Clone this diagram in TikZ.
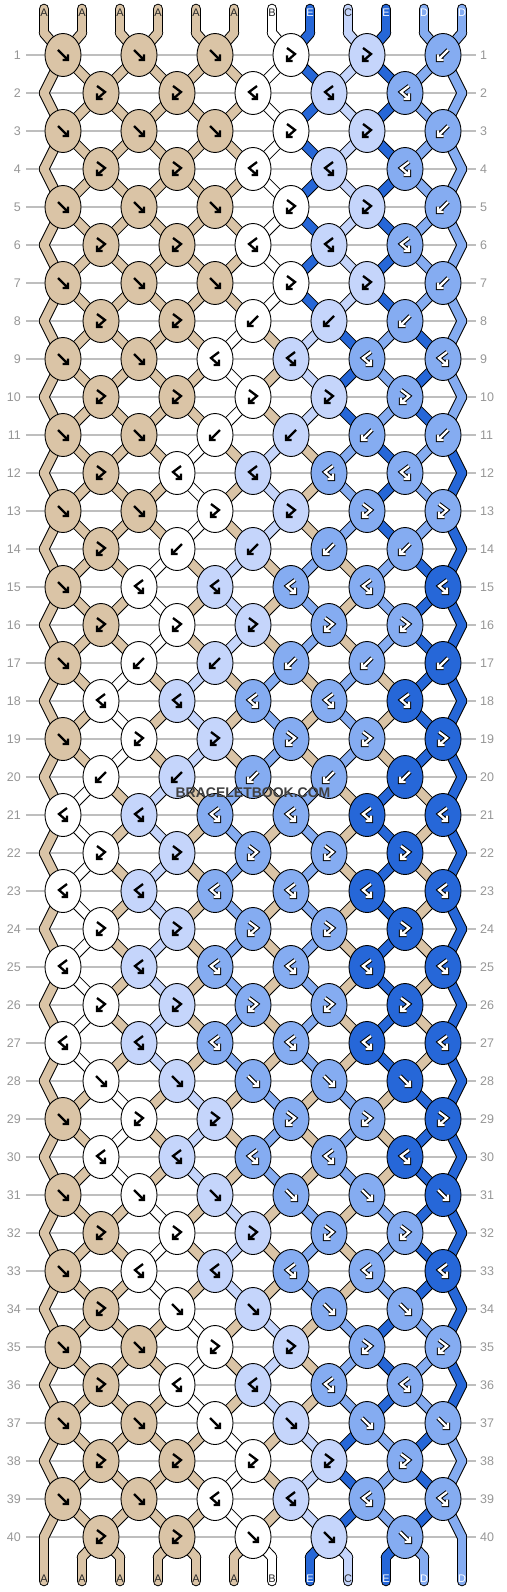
\documentclass[tikz,border=0pt]{standalone}
\usepackage{fontspec}
\setmainfont{Liberation Sans}
\usetikzlibrary{shapes.geometric}
\definecolor{colA}{RGB}{218,196,166}
\definecolor{colB}{RGB}{255,255,255}
\definecolor{colC}{RGB}{197,213,251}
\definecolor{colD}{RGB}{133,172,241}
\definecolor{colE}{RGB}{38,103,216}
\definecolor{rulegray}{RGB}{190,190,190}
\definecolor{numgray}{RGB}{150,150,150}
\pgfdeclarelayer{grid}
\pgfdeclarelayer{threadrim}
\pgfdeclarelayer{threadfill}
\pgfsetlayers{grid,threadrim,threadfill,main}
\tikzstyle{knot}=[ellipse,draw=black,line width=0.9pt,minimum width=36pt,minimum height=43pt,inner sep=0pt]
\tikzstyle{rim}=[draw=black,line width=10.6pt,line cap=round,line join=round]
\tikzstyle{thread}=[line width=8.6pt,line cap=round,line join=round]
\tikzstyle{rowline}=[draw=rulegray,line width=1.1pt]
\tikzstyle{rownum}=[font=\fontsize{12.5}{13}\selectfont,text=numgray,inner sep=0pt]
\tikzstyle{endlabel}=[font=\fontsize{11}{11}\selectfont,inner sep=0pt]
\tikzstyle{tagA}=[text=black!85]
\tikzstyle{tagB}=[text=black!85]
\tikzstyle{tagC}=[text=black!85]
\tikzstyle{tagD}=[text=white]
\tikzstyle{tagE}=[text=white]
\tikzstyle{glyphdark}=[draw=black,line width=2.3pt,line cap=butt,line join=miter]
\tikzstyle{glyphrim}=[draw=black,line width=4.3pt,line cap=square,line join=miter]
\tikzstyle{glyphlight}=[draw=white,line width=2.3pt,line cap=butt,line join=miter]
\tikzstyle{watermark}=[font=\bfseries\fontsize{14}{14}\selectfont,text=black!75,inner sep=0pt]

% remember one piece of thread: colour, from, to
\newcommand{\addthread}[3]{\xdef\seglist{\seglist\seg{#1}{#2}{#3}}}
% arrow inside a knot: f forward, b backward, F forward-backward, B backward-forward
\newcommand{\knotglyph}[3]{%
  \begin{scope}[shift={(#3)}]
    \if#1f\draw[#2] (-5,-5) -- (5,5) (5,-0.5) -- (5,5) -- (-0.5,5);\fi
    \if#1b\draw[#2] (5,-5) -- (-5,5) (-5,-0.5) -- (-5,5) -- (0.5,5);\fi
    \if#1F\draw[#2] (-4,-7) -- (4,-1) -- (-4,6) (-4,0.5) -- (-4,6) -- (1.5,6);\fi
    \if#1B\draw[#2] (4,-7) -- (-4,-1) -- (4,6) (4,0.5) -- (4,6) -- (-1.5,6);\fi
  \end{scope}}
\newcommand{\glyphA}[2]{\knotglyph{#1}{glyphdark}{#2}}
\newcommand{\glyphB}[2]{\knotglyph{#1}{glyphdark}{#2}}
\newcommand{\glyphC}[2]{\knotglyph{#1}{glyphdark}{#2}}
\newcommand{\glyphD}[2]{\knotglyph{#1}{glyphrim}{#2}\knotglyph{#1}{glyphlight}{#2}}
\newcommand{\glyphE}[2]{\knotglyph{#1}{glyphrim}{#2}\knotglyph{#1}{glyphlight}{#2}}

\begin{document}
\begin{tikzpicture}[x=1pt,y=-1pt]
  \useasboundingbox (0,0) rectangle (506,1592);
  \global\let\seg\relax
  \gdef\seglist{}

  % grid lines and row numbers
  \begin{pgfonlayer}{grid}
    \foreach \row in {1,...,40}
      \draw[rowline] (26,55+38*\row-38) -- (476,55+38*\row-38);
  \end{pgfonlayer}
  \foreach \row in {1,...,40} {
    \node[rownum,anchor=east] (nl\row) at (21,55+38*\row-38) {\row};
    \node[rownum,anchor=west] (nr\row) at (480,55+38*\row-38) {\row};
  }

  % threads at the top
  \foreach \tcol [count=\p from 0] in {A,A,A,A,A,A,B,E,C,E,D,D} {
    \expandafter\xdef\csname st\p\endcsname{\tcol}
    \coordinate (top\p) at (44+38*\p,9);
    \coordinate (in\p) at (44+38*\p,33);
    \expandafter\xdef\csname pv\p\endcsname{in\p}
    \addthread{\tcol}{top\p}{in\p}
    \node[endlabel,tag\tcol] (lt\p) at (44+38*\p,13) {\tcol};
  }

  % the rows of knots
  \foreach \row/\types in {1/{f,f,f,F,F,b}, 2/{F,F,B,B,B}, 3/{f,f,f,F,F,b}, 4/{F,F,B,B,B},
      5/{f,f,f,F,F,b}, 6/{F,F,B,B,B}, 7/{f,f,f,F,F,b}, 8/{F,F,b,b,b},
      9/{f,f,B,B,B,B}, 10/{F,F,F,F,F}, 11/{f,f,b,b,b,b}, 12/{F,B,B,B,B},
      13/{f,f,F,F,F,F}, 14/{F,b,b,b,b}, 15/{f,B,B,B,B,B}, 16/{F,F,F,F,F},
      17/{f,b,b,b,b,b}, 18/{B,B,B,B,B}, 19/{f,F,F,F,F,F}, 20/{b,b,b,b,b},
      21/{B,B,B,B,B,B}, 22/{F,F,F,F,F}, 23/{B,B,B,B,B,B}, 24/{F,F,F,F,F},
      25/{B,B,B,B,B,B}, 26/{F,F,F,F,F}, 27/{B,B,B,B,B,B}, 28/{f,f,f,f,f},
      29/{f,F,F,F,F,F}, 30/{B,B,B,B,B}, 31/{f,f,f,f,f,f}, 32/{F,F,F,F,F},
      33/{f,B,B,B,B,B}, 34/{F,f,f,f,f}, 35/{f,f,F,F,F,F}, 36/{F,B,B,B,B},
      37/{f,f,f,f,f,f}, 38/{F,F,F,F,F}, 39/{f,f,B,B,B,B}, 40/{F,F,f,f,f}} {
    \pgfmathsetmacro{\yr}{55+38*(\row-1)}
    \pgfmathtruncatemacro{\odd}{mod(\row,2)}
    \foreach \p in {0,...,11}
      {\expandafter\xdef\csname nx\p\endcsname{\csname st\p\endcsname}}
    \ifnum\odd=0
      \coordinate (e\row-0) at (44,\yr);
      \coordinate (e\row-11) at (462,\yr);
    \fi
    % knots
    \foreach \kt [count=\kn from 0] in \types {
      \pgfmathtruncatemacro{\q}{2*\kn+1-\odd}
      \pgfmathtruncatemacro{\qq}{\q+1}
      \edef\lc{\csname st\q\endcsname}
      \edef\rc{\csname st\qq\endcsname}
      \if\kt f\let\kc\lc
        \expandafter\xdef\csname nx\q\endcsname{\rc}\expandafter\xdef\csname nx\qq\endcsname{\lc}\fi
      \if\kt F\let\kc\lc\fi
      \if\kt b\let\kc\rc
        \expandafter\xdef\csname nx\q\endcsname{\rc}\expandafter\xdef\csname nx\qq\endcsname{\lc}\fi
      \if\kt B\let\kc\rc\fi
      \node[knot,fill=col\kc] (k\row-\kn) at (63+38*\q,\yr) {};
      \csname glyph\kc\endcsname{\kt}{63+38*\q,\yr}
    }
    % threads into this row
    \foreach \p in {0,...,11} {
      \ifnum\odd=1
        \pgfmathtruncatemacro{\kk}{div(\p,2)}
        \edef\hereN{k\row-\kk}
      \else
        \ifnum\p=0 \edef\hereN{e\row-0}\else
        \ifnum\p=11 \edef\hereN{e\row-11}\else
          \pgfmathtruncatemacro{\kk}{div(\p-1,2)}
          \edef\hereN{k\row-\kk}
        \fi\fi
      \fi
      \edef\fromN{\csname pv\p\endcsname}
      \edef\tcol{\csname st\p\endcsname}
      \addthread{\tcol}{\fromN}{\hereN}
      \expandafter\xdef\csname pv\p\endcsname{\hereN}
      \expandafter\xdef\csname st\p\endcsname{\csname nx\p\endcsname}
    }
  }

  % threads at the bottom
  \foreach \p in {0,...,11} {
    \edef\tcol{\csname st\p\endcsname}
    \edef\fromN{\csname pv\p\endcsname}
    \coordinate (out\p) at (44+38*\p,1557);
    \coordinate (end\p) at (44+38*\p,1581);
    \addthread{\tcol}{\fromN}{out\p}
    \addthread{\tcol}{out\p}{end\p}
    \node[endlabel,tag\tcol] (lb\p) at (44+38*\p,1579) {\tcol};
  }

  % now draw all the threads below the knots
  \begin{pgfonlayer}{threadrim}
    \def\seg#1#2#3{\draw[rim] (#2.center) -- (#3.center);}
    \seglist
  \end{pgfonlayer}
  \begin{pgfonlayer}{threadfill}
    \def\seg#1#2#3{\draw[thread,draw=col#1] (#2.center) -- (#3.center);}
    \seglist
  \end{pgfonlayer}

  \node[watermark] (mark) at (253,793) {BRACELETBOOK.COM};
\end{tikzpicture}
\end{document}
